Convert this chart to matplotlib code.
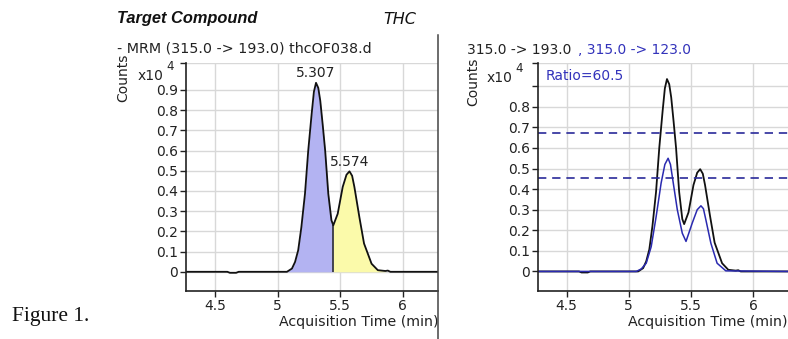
import matplotlib
matplotlib.use("Agg")
import matplotlib.pyplot as plt
from matplotlib.lines import Line2D
import numpy as np

# ---- data ----
t_q = [4.27, 4.60, 4.62, 4.67, 4.69, 5.00, 5.075, 5.115, 5.14, 5.165, 5.19, 5.219, 5.245, 5.272,
       5.29, 5.307, 5.325, 5.341, 5.36, 5.38, 5.405, 5.43, 5.445, 5.48, 5.52, 5.55, 5.574, 5.595,
       5.613, 5.653, 5.69, 5.75, 5.80, 5.86, 5.88, 5.90, 6.28]
v_q = [0.0, 0.0, -0.005, -0.005, 0.0, 0.0, 0.0, 0.016, 0.049, 0.107, 0.22, 0.386, 0.60, 0.78,
       0.89, 0.935, 0.91, 0.846, 0.73, 0.60, 0.386, 0.255, 0.23, 0.287, 0.42, 0.48, 0.497, 0.475,
       0.42, 0.27, 0.14, 0.04, 0.008, 0.004, 0.006, 0.0, 0.0]
t_c = [4.27, 5.00, 5.06, 5.10, 5.14, 5.18, 5.22, 5.26, 5.29, 5.316, 5.335, 5.35, 5.39, 5.43, 5.46,
       5.51, 5.55, 5.58, 5.60, 5.62, 5.66, 5.71, 5.78, 6.28]
v_c = [0.0, 0.0, 0.0, 0.012, 0.04, 0.12, 0.267, 0.43, 0.52, 0.55, 0.52, 0.46, 0.30, 0.186, 0.146,
       0.235, 0.30, 0.319, 0.305, 0.25, 0.137, 0.04, 0.003, 0.0]
split_t = 5.445
peak_rt = ["5.307", "5.574"]
peak_pos = [(5.307, 0.935), (5.574, 0.497)]
ratio_band = [0.453, 0.672]
ratio_text = "Ratio=60.5"
xticks = [4.5, 5, 5.5, 6]
xticklabels = ["4.5", "5", "5.5", "6"]
xlim = (4.27, 6.28)

FONT = ["DejaVu Sans"]
plt.rcParams['font.family'] = FONT

fig = plt.figure(figsize=(7.88, 3.39), dpi=100)
W, H = 788, 339

def ax_rect(x0, y0, x1, y1):
    return [x0 / W, 1 - y1 / H, (x1 - x0) / W, (y1 - y0) / H]

grid_c = "#d8d8d8"
TXT = "#222222"
BLUE = "#3333bb"

def style(ax, ylim, labeled):
    ax.set_xlim(*xlim)
    ax.set_ylim(*ylim)
    ax.set_xticks(xticks)
    ax.set_xticklabels(xticklabels)
    yt = [round(0.1 * i, 1) for i in range(0, 10)] + [ylim[1]]
    ax.set_yticks(yt)
    labs = []
    for v in yt:
        if v in labeled:
            labs.append("0" if v == 0 else f"{v:.1f}")
        else:
            labs.append("")
    ax.set_yticklabels(labs)
    ax.tick_params(axis="both", direction="out", length=4, width=1, labelsize=10,
                   color=TXT, labelcolor=TXT, pad=1.5)
    ax.grid(True, color=grid_c, lw=1)
    ax.set_axisbelow(True)
    for s in ["top", "right"]:
        ax.spines[s].set_visible(False)
    for s in ["left", "bottom"]:
        ax.spines[s].set_color(TXT)
        ax.spines[s].set_linewidth(1.2)
    ax.set_xlabel("Acquisition Time (min)", fontsize=10.2, color=TXT, loc="right", labelpad=2)

# ---- left panel ----
ax1 = fig.add_axes(ax_rect(186, 63, 438, 291))
ylim1 = (-0.095, 1.033)
style(ax1, ylim1, [round(0.1 * i, 1) for i in range(0, 10)])
tq = np.array(t_q); vq = np.array(v_q)
m1 = (tq >= 5.075) & (tq <= split_t)
ax1.fill_between(tq[m1], 0, vq[m1], color="#b3b3f2", lw=0)
m2 = (tq >= split_t) & (tq <= 5.86)
ax1.fill_between(tq[m2], 0, vq[m2], color="#fbfaaa", lw=0)
ax1.vlines(split_t, 0, 0.23, color=TXT, lw=1.1)
ax1.plot(t_q, v_q, color="#111111", lw=1.3)
for lab, (px, py) in zip(peak_rt, peak_pos):
    ax1.annotate(lab, (px, py), xytext=(0, 2), textcoords="offset points",
                 ha="center", va="bottom", fontsize=10, color=TXT)

# ---- right panel ----
ax2 = fig.add_axes(ax_rect(538, 63, 788, 291))
ylim2 = (-0.095, 1.013)
style(ax2, ylim2, [round(0.1 * i, 1) for i in range(0, 9)])
ax2.plot(t_q, v_q, color="#111111", lw=1.3)
ax2.plot(t_c, v_c, color="#2a2ab0", lw=1.1)
for yb in ratio_band:
    ax2.axhline(yb, color="#2a2a9a", lw=1.2, ls=(0, (5, 3.5)))
ax2.text(0.03, 0.975, ratio_text, transform=ax2.transAxes, ha="left", va="top",
         fontsize=10, color=BLUE)

# ---- headers and labels ----
fig.text(117 / W, 1 - 19 / H, "Target Compound", fontsize=11.8, fontweight="bold",
         style="italic", va="center", ha="left", color="#111111",
         family=["Liberation Sans", "DejaVu Sans"])
fig.text(383 / W, 1 - 19 / H, "THC", fontsize=11.5, style="italic", va="center", ha="left",
         color="#111111")
fig.text(117 / W, 1 - 48 / H, "- MRM (315.0 -> 193.0) thcOF038.d", fontsize=10.3,
         va="center", ha="left", color=TXT)
fig.text(467 / W, 1 - 50 / H, "315.0 -> 193.0", fontsize=10, va="center", ha="left",
         color=TXT)
fig.text(578 / W, 1 - 50 / H, ", 315.0 -> 123.0", fontsize=10, va="center", ha="left",
         color=BLUE)
for cx, cy in [(123, 78), (473, 82)]:
    fig.text(cx / W, 1 - cy / H, "Counts", rotation=90, fontsize=10, va="center",
             ha="center", color=TXT)
for x10, y10 in [(138, 76), (487, 78)]:
    fig.text(x10 / W, 1 - y10 / H, "x10", fontsize=10, va="center", ha="left", color=TXT)
    fig.text((x10 + 28) / W, 1 - (y10 - 10) / H, "4", fontsize=8.5, va="center", ha="left",
             color=TXT)

fig.add_artist(Line2D([438.5 / W, 438.5 / W], [1 - 35 / H, 0], transform=fig.transFigure,
                      color="#444444", lw=1.1))

fig.text(12 / W, 1 - 316 / H, "Figure 1.", fontsize=15.5, va="center", ha="left",
         family=["Liberation Serif", "DejaVu Serif"], color="#111111")

fig.savefig("out.png", dpi=100)
